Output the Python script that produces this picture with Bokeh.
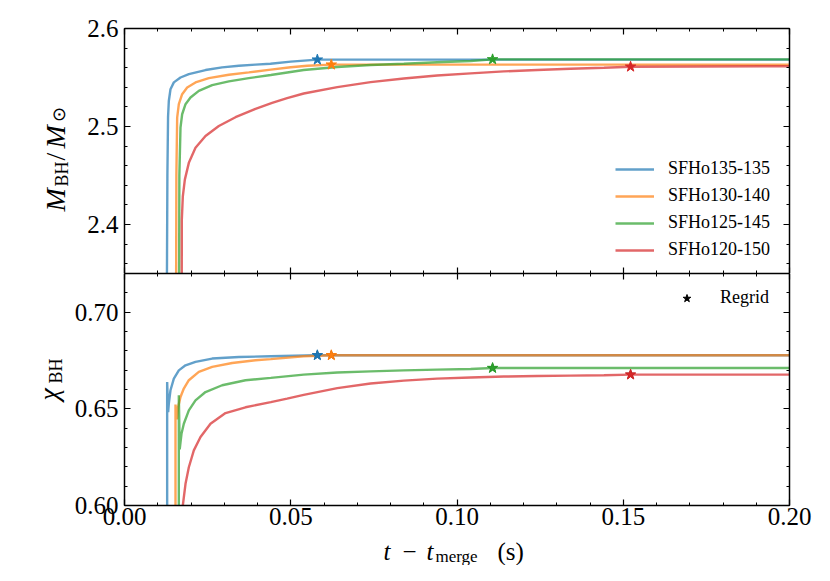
from bokeh.plotting import figure
from bokeh.models import (LinearAxis, SingleIntervalTicker, NumeralTickFormatter, Label,
                          Legend, LegendItem, Range1d, ColumnDataSource)
from bokeh.layouts import column, row
from bokeh.embed import file_html
from bokeh.resources import INLINE

FONT = "Liberation Serif"

names = ["SFHo135-135", "SFHo130-140", "SFHo125-145", "SFHo120-150"]
colors = ["#1f77b4", "#ff7f0e", "#2ca02c", "#d62728"]

# ---- top panel: black-hole mass (M_sun) vs t - t_merge (s)
t_m_135 = [0.0127, 0.0129, 0.0131, 0.01333, 0.01383, 0.01484, 0.01684, 0.01935, 0.02436,
           0.02937, 0.0344, 0.0394, 0.0439, 0.050, 0.058, 0.200]
m_135 = [2.30, 2.45, 2.51, 2.526, 2.538, 2.545, 2.550, 2.5535, 2.5576,
         2.5603, 2.562, 2.5631, 2.5641, 2.5662, 2.5682, 2.5682]

t_m_130 = [0.0155, 0.0156, 0.01584, 0.01634, 0.01734, 0.01885, 0.02135, 0.02536, 0.03138,
           0.03739, 0.0440, 0.050, 0.055, 0.0622, 0.200]
m_130 = [2.30, 2.45, 2.509, 2.5228, 2.533, 2.5398, 2.545, 2.5494, 2.5528,
         2.5552, 2.558, 2.5605, 2.562, 2.5631, 2.5631]

t_m_125 = [0.0164, 0.0165, 0.01684, 0.01734, 0.01835, 0.01985, 0.02235, 0.02637, 0.03138,
           0.03739, 0.0440, 0.0539, 0.064, 0.074, 0.084, 0.094, 0.1041, 0.1107, 0.200]
m_125 = [2.30, 2.45, 2.4988, 2.5125, 2.5228, 2.5296, 2.5364, 2.5422, 2.546,
         2.5494, 2.5525, 2.5576, 2.5607, 2.5628, 2.5641, 2.5655, 2.5669, 2.5685, 2.5685]

t_m_120 = [0.0172, 0.01724, 0.01754, 0.01815, 0.01935, 0.02135, 0.02436, 0.02837, 0.03338,
           0.0394, 0.0444, 0.0489, 0.0539, 0.064, 0.074, 0.084, 0.094, 0.1041, 0.1141,
           0.1241, 0.1341, 0.1442, 0.1522, 0.200]
m_120 = [2.30, 2.4048, 2.4287, 2.4458, 2.4629, 2.4783, 2.4903, 2.5005, 2.5095,
         2.5180, 2.5240, 2.5290, 2.5337, 2.5402, 2.5453, 2.549, 2.5521, 2.5542, 2.5562,
         2.5576, 2.559, 2.560, 2.561, 2.5615]

# ---- bottom panel: black-hole spin
t_c_135 = [0.01283, 0.01283, 0.01313, 0.01333, 0.01383, 0.01484, 0.01634, 0.01835, 0.02135,
           0.02637, 0.0344, 0.0440, 0.058, 0.200]
chi_135 = [0.55, 0.6639, 0.6483, 0.6527, 0.6596, 0.6656, 0.6699, 0.6725, 0.6743,
           0.676, 0.6768, 0.6772, 0.6777, 0.6777]

t_c_130 = [0.01534, 0.01534, 0.0158, 0.01614, 0.01684, 0.01784, 0.01935, 0.02235, 0.02637,
           0.03239, 0.0394, 0.0440, 0.0539, 0.0622, 0.200]
chi_130 = [0.55, 0.6522, 0.6445, 0.6510, 0.6561, 0.6605, 0.6648, 0.6691, 0.6717,
           0.6737, 0.6751, 0.6757, 0.6772, 0.6777, 0.6777]

t_c_125 = [0.01634, 0.01634, 0.0166, 0.01714, 0.01784, 0.01935, 0.02135, 0.02436, 0.02937,
           0.03639, 0.0440, 0.0539, 0.064, 0.074, 0.084, 0.094, 0.1041, 0.1107, 0.200]
chi_125 = [0.55, 0.657, 0.629, 0.6371, 0.6423, 0.6492, 0.6544, 0.6587, 0.6622,
           0.6648, 0.6660, 0.6677, 0.6688, 0.6694, 0.6699, 0.6703, 0.6706, 0.6711, 0.6711]

t_c_120 = [0.0172, 0.01754, 0.01835, 0.01935, 0.02085, 0.02286, 0.02586, 0.03038, 0.03639,
           0.0440, 0.0489, 0.0539, 0.064, 0.074, 0.084, 0.094, 0.1041, 0.1141, 0.1241,
           0.1341, 0.1442, 0.1522, 0.200]
chi_120 = [0.57, 0.600, 0.6112, 0.6198, 0.6285, 0.6354, 0.6423, 0.6478, 0.6508,
           0.6535, 0.6553, 0.6572, 0.6607, 0.6631, 0.6646, 0.6656, 0.6662, 0.6667, 0.667,
           0.6672, 0.6674, 0.6677, 0.6677]

# regrid markers
star_t = [0.058, 0.0622, 0.1107, 0.1522]
star_m = [2.5682, 2.5631, 2.5685, 2.561]
star_chi = [0.6777, 0.6777, 0.6711, 0.6677]

x_ticks = (0.05, 5)
m_ticks = (0.1, 5)
chi_ticks = (0.05, 5)

FW = 665
FH1, FH2 = 245, 232
STRIP = 71          # width of the strip holding the rotated y labels
BL = 124 - STRIP    # left border of the panels
BB = 32             # bottom border of the lower panel (tick labels)
TOTAL_H = 565


def style_axis(ax, interval, minor, fmt, labels, standoff=6):
    ax.ticker = SingleIntervalTicker(interval=interval, num_minor_ticks=minor)
    ax.formatter = NumeralTickFormatter(format=fmt)
    ax.major_tick_in = 6
    ax.major_tick_out = 0
    ax.minor_tick_in = 3
    ax.minor_tick_out = 0
    ax.axis_line_color = "black"
    ax.axis_line_width = 1.5
    ax.major_tick_line_color = "black"
    ax.major_tick_line_width = 1.2
    ax.minor_tick_line_color = "black"
    ax.minor_tick_line_width = 1.0
    ax.major_label_text_font = FONT
    if labels:
        ax.major_label_text_color = "black"
        ax.major_label_text_font_size = "25px"
        ax.major_label_standoff = standoff
    else:
        ax.major_label_text_color = None
        ax.major_label_text_font_size = "0px"
        ax.major_label_standoff = 0


def make_fig(yr, fh, top, bottom):
    p = figure(frame_width=FW, frame_height=fh, x_range=Range1d(0.0, 0.2), y_range=yr,
               output_backend="svg", toolbar_location=None,
               min_border_left=BL, min_border_right=25,
               min_border_top=top, min_border_bottom=bottom)
    p.xgrid.visible = False
    p.ygrid.visible = False
    p.outline_line_color = None
    p.background_fill_color = "white"
    p.border_fill_color = "white"
    p.add_layout(LinearAxis(), "above")
    p.add_layout(LinearAxis(), "right")
    return p


def text_fig(w, h):
    f = figure(width=w, height=h, x_range=Range1d(0, w), y_range=Range1d(0, h),
               x_axis_type=None, y_axis_type=None, toolbar_location=None,
               output_backend="svg", min_border=0)
    f.outline_line_color = None
    f.background_fill_color = "white"
    f.border_fill_color = "white"
    return f


def add_label(f, x, y, text, size, italic=False, angle=0.0):
    f.add_layout(Label(x=x, y=y, x_units="screen", y_units="screen", text=text,
                       text_font=FONT, text_font_size=f"{size}px",
                       text_font_style="italic" if italic else "normal",
                       text_color="black", angle=angle,
                       text_align="left", text_baseline="middle"))


ang = 1.5707963

# ---------------- top figure
p1 = make_fig(Range1d(2.35, 2.6), FH1, 28, 0)
style_axis(p1.below[0], x_ticks[0], x_ticks[1], "0.00", False)
style_axis(p1.above[0], x_ticks[0], x_ticks[1], "0.00", False)
style_axis(p1.left[0], m_ticks[0], m_ticks[1], "0.0", True)
style_axis(p1.right[0], m_ticks[0], m_ticks[1], "0.0", False)

top_series = [(t_m_135, m_135), (t_m_130, m_130), (t_m_125, m_125), (t_m_120, m_120)]
lines1 = []
for (tt, mm), c in zip(top_series, colors):
    lines1.append(p1.line(tt, mm, line_color=c, line_width=2.4, line_alpha=0.7))
src1 = ColumnDataSource(dict(t=star_t, y=star_m, c=colors))
p1.scatter("t", "y", source=src1, marker="star", size=11, fill_color="c", line_color="c")

leg1 = Legend(items=[LegendItem(label=n, renderers=[r]) for n, r in zip(names, lines1)],
              location=(491, 13), glyph_width=39, glyph_height=20, label_height=20,
              spacing=6, padding=0, margin=0, label_standoff=14,
              label_text_font=FONT, label_text_font_size="18px", label_text_color="black",
              border_line_color=None, background_fill_alpha=0)
p1.add_layout(leg1)

# ---------------- bottom figure
p2 = make_fig(Range1d(0.60, 0.72), FH2, 0, BB)
style_axis(p2.above[0], x_ticks[0], x_ticks[1], "0.00", False)
style_axis(p2.below[0], x_ticks[0], x_ticks[1], "0.00", True, standoff=2)
style_axis(p2.left[0], chi_ticks[0], chi_ticks[1], "0.00", True)
style_axis(p2.right[0], chi_ticks[0], chi_ticks[1], "0.00", False)

bot_series = [(t_c_135, chi_135), (t_c_130, chi_130), (t_c_125, chi_125), (t_c_120, chi_120)]
for (tt, cc), c in zip(bot_series, colors):
    p2.line(tt, cc, line_color=c, line_width=2.4, line_alpha=0.7)
# black regrid stars (legend handle), covered by the coloured ones
regrid = p2.scatter(star_t, star_chi, marker="star", size=9, color="black")
src2 = ColumnDataSource(dict(t=star_t, y=star_chi, c=colors))
p2.scatter("t", "y", source=src2, marker="star", size=11, fill_color="c", line_color="c")

leg2 = Legend(items=[LegendItem(label="Regrid", renderers=[regrid])],
              location=(543, 197), glyph_width=39, glyph_height=20, label_height=20,
              spacing=6, padding=0, margin=0, label_standoff=14,
              label_text_font=FONT, label_text_font_size="18px", label_text_color="black",
              border_line_color=None, background_fill_alpha=0)
p2.add_layout(leg2)

# ---------------- strip with the rotated y labels (full height)
strip = text_fig(STRIP, TOTAL_H)
# M_BH / M_sun
add_label(strip, 55, 354, "M", 28, True, ang)
add_label(strip, 61, 379, "BH", 18, False, ang)
add_label(strip, 55, 405, "/", 28, False, ang)
add_label(strip, 55, 417, "M", 28, True, ang)
add_label(strip, 58, 444, "\u2299", 18, False, ang)
# chi_BH
add_label(strip, 48, 165, "\u03c7", 28, True, ang)
add_label(strip, 55, 182, "BH", 18, False, ang)

# ---------------- x label  t - t_merge (s); its frame is aligned with the panels' frames
XH = TOTAL_H - (28 + FH1) - (FH2 + BB)
xlab = text_fig(814 - STRIP, XH)
add_label(xlab, 259, 14, "t", 25, True)
add_label(xlab, 278, 14, "\u2212", 25)
add_label(xlab, 302, 14, "t", 25, True)
add_label(xlab, 311, 9.5, "merge", 17)
add_label(xlab, 373, 14, "(s)", 25)

layout = row(strip, column(p1, p2, xlab, spacing=0), spacing=0)
open("out.html", "w").write(file_html(layout, INLINE))
